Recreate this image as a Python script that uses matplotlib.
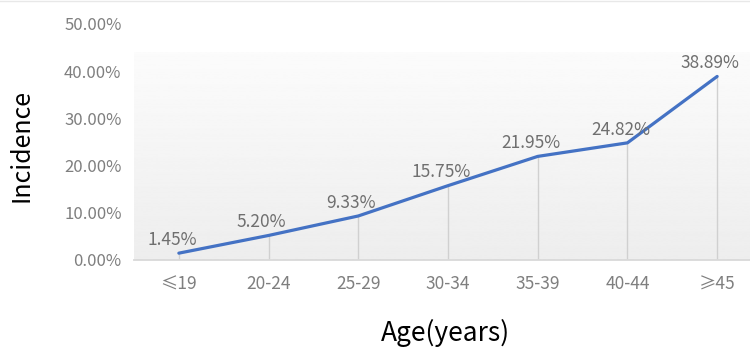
import matplotlib
matplotlib.use('Agg')
import matplotlib.pyplot as plt
import numpy as np
from matplotlib.lines import Line2D

plt.rcParams['font.family'] = ['Noto Sans CJK SC', 'DejaVu Sans']

ages = ['≤19', '20-24', '25-29', '30-34', '35-39', '40-44', '≥45']
incidence = [1.45, 5.20, 9.33, 15.75, 21.95, 24.82, 38.89]
yticks = [0, 10, 20, 30, 40, 50]

fig = plt.figure(figsize=(7.5, 3.48), dpi=100)
ax = fig.add_axes([134 / 750, 88 / 348, 628 / 750, 236 / 348])

x = np.arange(len(ages))
ax.set_xlim(-0.5, len(ages) - 0.5)
ax.set_ylim(0, 50)

# soft grey fill in the lower part of the plot area
grad = np.linspace(0.93, 0.985, 256).reshape(-1, 1)
ax.imshow(grad, cmap='gray', vmin=0, vmax=1, aspect='auto',
          extent=(-0.5, len(ages) - 0.5, 0, 44), origin='lower', zorder=0)

# drop lines from each point to the axis
ax.vlines(x, 0, incidence, color='#d0d0d0', lw=1, zorder=1)
ax.plot(x, incidence, color='#4472c4', lw=2.3, solid_capstyle='round', zorder=3)

for xi, v in zip(x, incidence):
    ax.annotate(f'{v:.2f}%', (xi, v), xytext=(-5, 3), textcoords='offset points',
                ha='center', va='bottom', fontsize=12.5, color='#6f6f6f')

ax.set_xticks(x)
ax.set_xticklabels(ages)
ax.set_yticks(yticks)
ax.set_yticklabels([f'{t:.2f}%' for t in yticks])
ax.tick_params(axis='both', length=0, labelsize=12, labelcolor='#7f7f7f')
ax.tick_params(axis='x', pad=11, labelsize=12.5)
ax.tick_params(axis='y', pad=9)

for s in ['top', 'right', 'left']:
    ax.spines[s].set_visible(False)
ax.spines['bottom'].set_color('#d9d9d9')
ax.spines['bottom'].set_linewidth(1.3)

fig.text(22 / 750, 1 - 146 / 348, 'Incidence', rotation=90, fontsize=18,
         fontweight='medium', ha='center', va='center', color='black')
fig.text(445 / 750, 1 - 333 / 348, 'Age(years)', fontsize=19,
         fontweight='medium', ha='center', va='center', color='black')

fig.add_artist(Line2D([0, 1], [0.997, 0.997], color='#e8e8e8', lw=1,
                      transform=fig.transFigure))

fig.savefig('out.png', dpi=100)
